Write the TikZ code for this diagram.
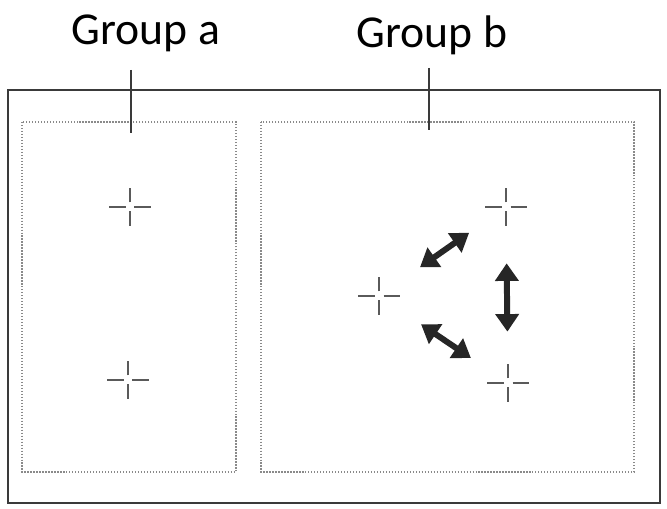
\documentclass[tikz,border=0pt]{standalone}
\usepackage{fontspec}
\setmainfont{Carlito}
\usetikzlibrary{arrows.meta}
\usetikzlibrary{positioning}
\definecolor{framegray}{HTML}{3A3A3A}
\definecolor{dotgray}{HTML}{8A8A8A}
\definecolor{crossgray}{HTML}{5A5A5A}
\tikzset{x=0.02cm, y=-0.02cm, every text node part/.style={font={\fontsize{26}{30}\selectfont}}}
\tikzstyle{frame} = [draw=framegray, line width=1.1pt]
\tikzstyle{group} = [draw=dotgray, line width=0.7pt, densely dotted]
\tikzstyle{tick} = [draw=framegray, line width=0.8pt]
\tikzstyle{cross} = [inner sep=0pt, minimum size=0.84cm, path picture={
  \draw[crossgray, line width=1.2pt]
    ([xshift=-0.42cm]path picture bounding box.center) -- ([xshift=-0.09cm]path picture bounding box.center)
    ([xshift=0.09cm]path picture bounding box.center) -- ([xshift=0.42cm]path picture bounding box.center)
    ([yshift=-0.38cm]path picture bounding box.center) -- ([yshift=-0.09cm]path picture bounding box.center)
    ([yshift=0.09cm]path picture bounding box.center) -- ([yshift=0.38cm]path picture bounding box.center);}]
\tikzstyle{ln} = [draw=black!85, line width=3.4pt, {Triangle[length=10pt,width=13pt]}-{Triangle[length=10pt,width=13pt]}]

\begin{document}
\begin{tikzpicture}[]
  \useasboundingbox (0,0) rectangle (667,509);
  \draw[frame] (8,90) rectangle (660,503);
  \draw[group] (22,122) rectangle (236,472);
  \draw[group] (261,122) rectangle (634,472);
  \node[anchor=base] (labela) at (146,45) {Group a};
  \node[anchor=base] (labelb) at (432,48) {Group b};
  \coordinate (ticka) at (131,70);
  \coordinate (tickb) at (429,68);
  \draw[tick] (ticka) -- ++(0,63);
  \draw[tick] (tickb) -- ++(0,62);
  \node[cross] (a1) at (130,207) {};
  \node[cross] (a2) at (128,380) {};
  \node[cross] (bl) at (379,296) {};
  \node[cross] (bt) at (506,207) {};
  \node[cross] (bb) at (508,383) {};
  \draw[ln, shorten <=0.48cm, shorten >=0.38cm] (bl) -- (bt);
  \draw[ln, shorten <=0.5cm, shorten >=0.38cm] (bl) -- (bb);
  \draw[ln, shorten <=0.7cm, shorten >=0.6cm] (bt) -- (bb);
\end{tikzpicture}
\end{document}
